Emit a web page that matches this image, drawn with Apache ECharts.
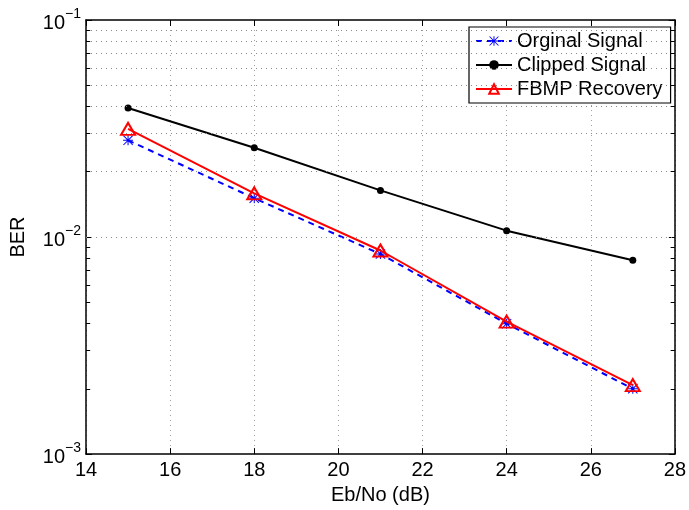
<!DOCTYPE html>
<html><head><meta charset="utf-8">
<script src="https://cdn.jsdelivr.net/npm/echarts@6/dist/echarts.min.js"></script>
<style>html,body{margin:0;padding:0;background:#fff}#c{width:689px;height:510px}</style>
</head><body><div id="c"></div>
<script>
var ebno = [15, 18, 21, 24, 27];
var original = [0.0279, 0.0151, 0.00835, 0.00399, 0.00200];
var clipped = [0.0393, 0.0258, 0.0164, 0.0107, 0.00782];
var fbmp = [0.0315, 0.0159, 0.00867, 0.00408, 0.00208];
var seriesNames = ['Orginal Signal', 'Clipped Signal', 'FBMP Recovery'];
var xTicks = [14, 16, 18, 20, 22, 24, 26, 28];
var yDecades = [0.001, 0.01, 0.1];

var FONT = 'Liberation Sans, Arial, Helvetica, sans-serif';
var minorVals = [];
[0.001, 0.01].forEach(function (d) { for (var k = 2; k <= 9; k++) minorVals.push(+(d * k).toPrecision(3)); });

var gridLines = minorVals.concat([0.01]).map(function (v) { return { yAxis: v }; });
var tickSegs = [];
minorVals.forEach(function (v) {
  tickSegs.push([{ coord: [14, v] }, { coord: [14.1, v] }]);
  tickSegs.push([{ coord: [27.9, v] }, { coord: [28, v] }]);
});

var asterisk = 'path://M9 0H11V20H9Z M0 9H20V11H0Z M1.4 0L20 18.6L18.6 20L0 1.4Z M18.6 0L20 1.4L1.4 20L0 18.6Z';

function pairs(ys) { return ebno.map(function (x, i) { return [x, ys[i]]; }); }

var supMap = { '-1': '−1', '-2': '−2', '-3': '−3' };
function yFmt(v) {
  var e = Math.round(Math.log10(v));
  return '{a|10}{b|' + supMap[String(e)] + '}';
}

var chart = echarts.init(document.getElementById('c'), null, { renderer: 'canvas' });
chart.setOption({
  animation: false,
  backgroundColor: '#fff',
  textStyle: { fontFamily: FONT },
  grid: { left: 83, right: 14, top: 20, bottom: 51 },
  legend: {
    orient: 'vertical', left: 469, top: 27,
    data: seriesNames,
    backgroundColor: '#fff', borderColor: '#000', borderWidth: 1.2,
    padding: [4, 8, 4, 6], itemGap: 4, itemWidth: 36, itemHeight: 12,
    textStyle: { fontSize: 20, color: '#000', fontFamily: FONT }
  },
  xAxis: [{
    type: 'value', min: 14, max: 28, interval: 2,
    name: 'Eb/No (dB)', nameLocation: 'middle', nameGap: 26,
    nameTextStyle: { fontSize: 20, color: '#000', fontFamily: FONT },
    axisLine: { lineStyle: { color: '#000', width: 1.5 } },
    axisTick: { inside: true, length: 6, lineStyle: { color: '#000' } },
    axisLabel: { fontSize: 20, color: '#000', margin: 6, fontFamily: FONT },
    splitLine: { show: true, lineStyle: { color: '#a0a0a0', type: [1, 4], width: 1 } }
  }, {
    type: 'value', min: 14, max: 28, interval: 2, position: 'top',
    axisLine: { lineStyle: { color: '#000', width: 1.5 } },
    axisTick: { inside: true, length: 6, lineStyle: { color: '#000' } },
    axisLabel: { show: false }, splitLine: { show: false }
  }],
  yAxis: [{
    type: 'log', logBase: 10, min: 0.001, max: 0.1,
    name: 'BER', nameLocation: 'middle', nameGap: 58,
    nameTextStyle: { fontSize: 20, color: '#000', fontFamily: FONT },
    axisLine: { show: true, lineStyle: { color: '#000', width: 1.5 } },
    axisTick: { show: true, inside: true, length: 6, lineStyle: { color: '#000' } },
    axisLabel: {
      formatter: yFmt, margin: 5, color: '#000',
      rich: {
        a: { fontSize: 20, fontFamily: FONT, color: '#000', lineHeight: 26, verticalAlign: 'bottom', padding: [6, 0, 0, 0] },
        b: { fontSize: 14, fontFamily: FONT, color: '#000', lineHeight: 26, verticalAlign: 'top', padding: [0, 0, 8, 0] }
      }
    },
    splitLine: { show: false }
  }, {
    type: 'log', logBase: 10, min: 0.001, max: 0.1, position: 'right',
    axisLine: { show: true, lineStyle: { color: '#000', width: 1.5 } },
    axisTick: { show: true, inside: true, length: 6, lineStyle: { color: '#000' } },
    axisLabel: { show: false }, splitLine: { show: false }
  }],
  series: [{
    name: seriesNames[0], type: 'line', data: pairs(original),
    symbol: asterisk, symbolSize: 10,
    lineStyle: { color: '#0000ff', width: 2, type: [6, 5] },
    itemStyle: { color: '#0000ff' }, z: 3,
    markLine: {
      silent: true, symbol: 'none', animation: false, label: { show: false },
      lineStyle: { color: '#8a8a8a', type: [1, 4], width: 1 },
      data: gridLines
    }
  }, {
    name: seriesNames[1], type: 'line', data: pairs(clipped),
    symbol: 'circle', symbolSize: 7,
    lineStyle: { color: '#000', width: 2 },
    itemStyle: { color: '#000' }, z: 4,
    markLine: {
      silent: true, symbol: 'none', animation: false, label: { show: false },
      lineStyle: { color: '#000', type: 'solid', width: 1 },
      data: tickSegs
    }
  }, {
    name: seriesNames[2], type: 'line', data: pairs(fbmp),
    symbol: 'triangle', symbolSize: [14, 12],
    lineStyle: { color: '#ff0000', width: 2 },
    itemStyle: { color: 'rgba(255,255,255,0)', borderColor: '#ff0000', borderWidth: 2 }, z: 5
  }]
});
</script></body></html>
